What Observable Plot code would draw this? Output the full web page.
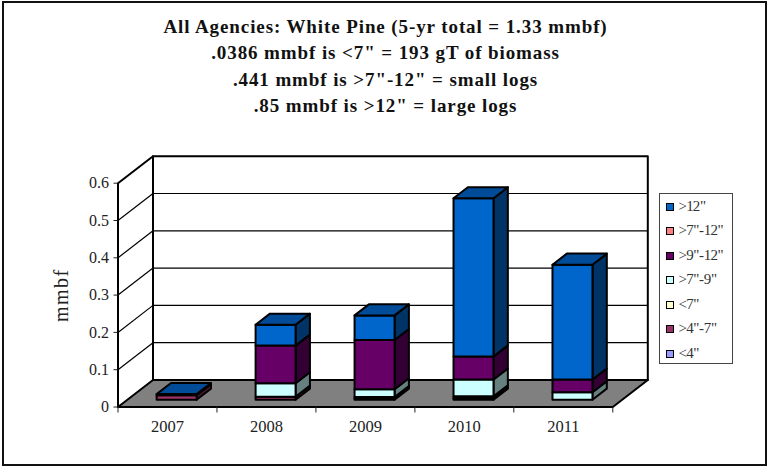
<!DOCTYPE html>
<html><head><meta charset="utf-8">
<script src="https://cdn.jsdelivr.net/npm/d3@7"></script>
<script src="https://cdn.jsdelivr.net/npm/@observablehq/plot@0.6"></script>
<style>
html,body{margin:0;padding:0;background:#fff;}
#box{position:relative;width:767px;height:467px;box-sizing:border-box;overflow:hidden;}
#frame{position:absolute;left:1.5px;top:1px;width:765px;height:464.5px;box-sizing:border-box;border:2px solid #111;pointer-events:none;}
#title{position:absolute;left:0;top:14px;width:771px;text-align:center;font:bold 19px/26.4px "Liberation Serif",serif;letter-spacing:.9px;color:#111;}
#chart{position:absolute;left:0;top:130px;}
#legend{position:absolute;left:659px;top:192.5px;width:73.5px;height:171px;box-sizing:border-box;border:1px solid #444;font:15px "Liberation Serif",serif;color:#333;background:#fff;letter-spacing:-.8px;word-spacing:-2.5px;}
#legend div{position:absolute;left:5.5px;height:14px;line-height:14px;white-space:nowrap;}
#legend i{display:inline-block;width:6px;height:6px;border:1.6px solid #000;margin-right:5px;vertical-align:0;}
</style></head><body>
<div id="box">
<div id="title"></div>
<div id="chart"></div>
<div id="legend"></div>
<div id="frame"></div>
</div>
<script>
const titleLines = ['All Agencies: White Pine (5-yr total = 1.33 mmbf)', '.0386 mmbf is <7" = 193 gT of biomass', '.441 mmbf is >7"-12" = small logs', '.85 mmbf is >12" = large logs'];
const years = ["2007","2008","2009","2010","2011"];
const yTicks = [0,0.1,0.2,0.3,0.4,0.5,0.6];

// stack order bottom to top
const under4   = [0,0,0.003,0.004,0];
const over4to7 = [0.012,0.008,0.004,0.005,0];
const under7   = [0,0,0,0,0];
const over7to9 = [0,0.036,0.021,0.045,0.020];
const over9to12= [0,0.101,0.132,0.062,0.034];
const over7to12= [0,0,0,0,0];
const over12   = [0.003,0.056,0.066,0.424,0.308];

const seriesNames = ['<4"','>4"-7"','<7"','>7"-9"','>9"-12"','>7"-12"','>12"'];
const seriesValues = [under4,over4to7,under7,over7to9,over9to12,over7to12,over12];
const frontColors = ["#9999FF","#993366","#FFFFCC","#CCFFFF","#660066","#FF8080","#0066CC"];
const sideColors  = ["#4D4D80","#4D1933","#808066","#668080","#330033","#804040","#003366"];
const topColors   = ["#7373BF","#73264D","#BFBF99","#99BFBF","#4D004D","#BF6060","#004C99"];

// oblique projection: depth z in [0,1] shifts data coordinates
const DX = 0.3537, DY = 0.0724;
const BAR_LEFT = 0.295, BAR_W = 0.404, Z0 = 0.27, Z1 = 0.68;
const P = (u,v,z) => ({px:u+z*DX, py:v+z*DY});

const polys = [];
let pid = 0;
function poly(fill, pts){
  const id = pid++;
  [...pts, pts[0]].forEach(p => polys.push({...p, id, fill}));
}
years.forEach((yr,i)=>{
  const l=i+BAR_LEFT, r=l+BAR_W;
  let base=0, lastTop=-1;
  seriesValues.forEach((vals,s)=>{ if(vals[i]>0) lastTop=s; });
  seriesValues.forEach((vals,s)=>{
    const v=vals[i]; if(!(v>0)) return;
    const top=base+v;
    poly(sideColors[s],[P(r,base,Z0),P(r,base,Z1),P(r,top,Z1),P(r,top,Z0)]);
    poly(frontColors[s],[P(l,base,Z0),P(r,base,Z0),P(r,top,Z0),P(l,top,Z0)]);
    if(s===lastTop) poly(topColors[s],[P(l,top,Z0),P(r,top,Z0),P(r,top,Z1),P(l,top,Z1)]);
    base=top;
  });
});

const X = [0,5], ymax = 0.6;
const floor = [P(0,0,0),P(5,0,0),P(5,0,1),P(0,0,1),P(0,0,0)];
const backEdge = [P(0,0,1),P(0,ymax,1)];
const outline = [P(0,0,0),P(0,ymax,0),P(0,ymax,1),P(5,ymax,1),P(5,0,1)];
const gridData = yTicks.filter(t=>t>0&&t<ymax).map(t=>({t}));

const fx = d=>d.px, fy=d=>d.py;
const H = 330;
const plot = Plot.plot({
  width:767, height:H,
  marginLeft:117.5, marginRight:154.7, marginTop:52.7, marginBottom:53.5,
  x:{type:"linear",domain:X},
  y:{type:"linear",domain:[0,ymax]},
  style:{background:"transparent",fontFamily:'"Liberation Serif",serif',color:"#222",overflow:"visible"},
  marks:[
    Plot.line(floor,{x:fx,y:fy,fill:"#808080",stroke:"#000",strokeWidth:2}),
    Plot.link(gridData,{x1:()=>P(0,0,1).px,x2:()=>P(5,0,1).px,y1:d=>P(0,d.t,1).py,y2:d=>P(0,d.t,1).py,stroke:"#000",strokeWidth:1.2}),
    Plot.link(gridData,{x1:()=>0,x2:()=>P(0,0,1).px,y1:d=>d.t,y2:d=>P(0,d.t,1).py,stroke:"#000",strokeWidth:1.2}),
    Plot.line(backEdge,{x:fx,y:fy,stroke:"#000",strokeWidth:2}),
    Plot.line(outline,{x:fx,y:fy,stroke:"#000",strokeWidth:2}),
    Plot.line(polys,{x:fx,y:fy,z:"id",fill:d=>d.fill,stroke:"#000",strokeWidth:2,strokeLinejoin:"round"}),
    Plot.axisY({ticks:yTicks,tickSize:4,tickPadding:5,fontSize:16,
      tickFormat:d=>d===0?"0":d3.format(".1f")(d),
      label:"mmbf",labelArrow:"none",labelAnchor:"center",labelOffset:64}),
    Plot.axisX({ticks:[0,1,2,3,4,5],tickSize:6,tickFormat:()=>""}),
    Plot.axisX({ticks:years.map((_,i)=>i+0.5),tickSize:0,tickPadding:13,fontSize:16.5,tickFormat:d=>years[Math.floor(d)],label:null})
  ]
});
d3.select(plot).selectAll('[aria-label="y-axis label"] text').attr("font-size",20).style("letter-spacing","1.5px").attr("fill","#222");
document.getElementById("chart").append(plot);

document.getElementById("title").innerHTML = titleLines.map(s=>s.replace(/</g,"&lt;").replace(/>/g,"&gt;")).join("<br>");
const legend = document.getElementById("legend");
const legendOrder = [6,5,4,3,2,1,0];
legendOrder.forEach((s,k)=>{
  const d=document.createElement("div");
  d.style.top=(5+k*24.5)+"px";
  const sw=document.createElement("i"); sw.style.background=frontColors[s];
  d.append(sw, document.createTextNode(seriesNames[s].replace(/"/g,' "').replace(/-/,' - ')));
  legend.append(d);
});
</script>
</body></html>
